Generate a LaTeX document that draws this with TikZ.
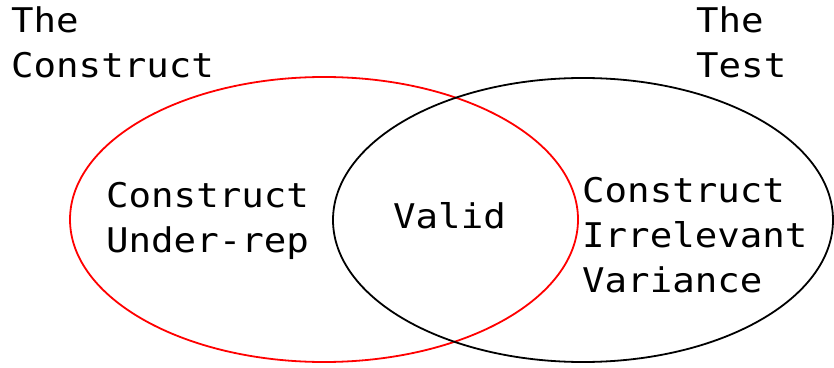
\documentclass[tikz,border=0pt]{standalone}
\usepackage{fontspec}
\setmonofont[FakeStretch=1.1]{DejaVu Sans Mono}
\begin{document}
\begin{tikzpicture}[x=1pt,y=1pt,
  lbl/.style={anchor=base west, inner sep=0pt, align=left,
    font=\ttfamily\fontsize{34}{45}\selectfont},
  setline/.style={line width=1.8pt}]
\useasboundingbox (0,0) rectangle (834,367);
% the two overlapping sets
\draw[setline, red] (324,147.5) ellipse [x radius=254, y radius=142.5];
\draw[setline, black] (583,147) ellipse [x radius=250, y radius=142];
% captions (base anchor sits on the last line)
\node[lbl] (construct) at (11,289) {The\\Construct};
\node[lbl] (test) at (696,289) {The\\Test};
% region labels
\node[lbl] (under) at (106,115) {Construct\\Under-rep};
\node[lbl] (valid) at (393,139) {Valid};
\node[lbl] (irrel) at (582,75) {Construct\\Irrelevant\\Variance};
\end{tikzpicture}
\end{document}
